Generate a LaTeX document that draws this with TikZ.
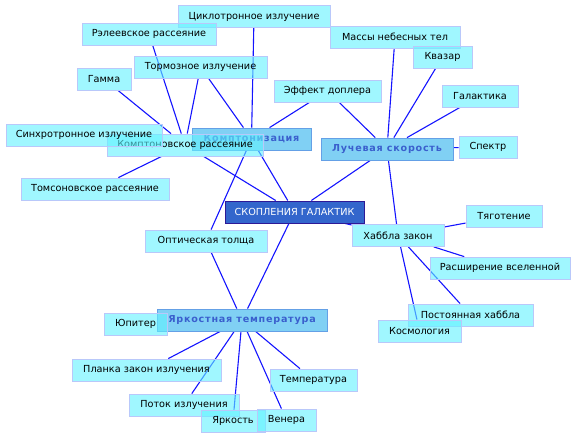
\documentclass[tikz,border=0pt]{standalone}
\usepackage{fontspec}
\setmainfont{DejaVu Sans}
\newfontfamily\catfont[LetterSpace=8]{DejaVu Sans Bold}
\usetikzlibrary{backgrounds}
\definecolor{leaffill}{RGB}{97,242,255}
\definecolor{leafdraw}{RGB}{185,200,250}
\definecolor{catfill}{RGB}{43,177,237}
\definecolor{catdraw}{RGB}{100,160,230}
\definecolor{cattext}{RGB}{58,95,205}
\definecolor{hubfill}{RGB}{51,102,204}
\definecolor{hubdraw}{RGB}{45,25,150}
\definecolor{linkblue}{RGB}{20,20,255}
\tikzset{
  leaf/.style={draw=leafdraw, line width=0.8pt, fill=leaffill, fill opacity=0.6, text opacity=1,
    minimum height=22pt, inner sep=0pt, font=\fontsize{9.7}{11}\selectfont, text=black},
  cat/.style={draw=catdraw, line width=0.8pt, fill=catfill, fill opacity=0.6, text opacity=1,
    minimum height=22pt, inner sep=0pt, font=\catfont\fontsize{9.6}{11}\selectfont, text=cattext},
  central/.style={draw=hubdraw, line width=1pt, fill=hubfill,
    minimum height=22pt, inner sep=0pt, font=\fontsize{9.7}{11}\selectfont, text=white},
  link/.style={draw=linkblue, line width=1.1pt}
}
\begin{document}
\begin{tikzpicture}[x=1pt,y=-1pt]
\useasboundingbox (0,0) rectangle (576,439);
% category / hub nodes
\node[cat, minimum width=119pt] (kompz) at (251.5,139) {Комптонизация};
\node[cat, minimum width=132pt] (luch) at (387,149) {Лучевая скорость};
\node[cat, minimum width=170pt] (yark) at (242,320) {Яркостная температура};
\node[central, minimum width=139pt] (skop) at (294.5,212) {СКОПЛЕНИЯ ГАЛАКТИК};
% leaves
\node[leaf, minimum width=152pt] (cyc) at (254,16.5) {Циклотронное излучение};
\node[leaf, minimum width=134pt] (ray) at (149,34) {Рэлеевское рассеяние};
\node[leaf, minimum width=133pt] (torm) at (200.5,67) {Тормозное излучение};
\node[leaf, minimum width=54pt] (gam) at (104,79) {Гамма};
\node[leaf, minimum width=156pt] (kompr) at (185,145) {Комптоновское рассеяние};
\node[leaf, minimum width=156pt] (sync) at (84,135) {Синхротронное излучение};
\node[leaf, minimum width=107pt] (dop) at (327.5,91) {Эффект доплера};
\node[leaf, minimum width=130pt] (mass) at (395,37) {Массы небесных тел};
\node[leaf, minimum width=59pt] (kvaz) at (442.5,57) {Квазар};
\node[leaf, minimum width=76pt] (gal) at (480,96) {Галактика};
\node[leaf, minimum width=58pt] (spec) at (488,147) {Спектр};
\node[leaf, minimum width=148pt] (toms) at (95,189) {Томсоновское рассеяние};
\node[leaf, minimum width=122pt] (opt) at (206,241) {Оптическая толща};
\node[leaf, minimum width=92pt] (hub) at (398,235.5) {Хаббла закон};
\node[leaf, minimum width=76pt] (tyag) at (504,216) {Тяготение};
\node[leaf, minimum width=140pt] (rassh) at (500,268) {Расширение вселенной};
\node[leaf, minimum width=125pt] (post) at (470.5,315) {Постоянная хаббла};
\node[leaf, minimum width=83pt] (kosm) at (419.5,331) {Космология};
\node[leaf, minimum width=63pt] (yup) at (135.5,324) {Юпитер};
\node[leaf, minimum width=149pt] (plank) at (146.5,370) {Планка закон излучения};
\node[leaf, minimum width=87pt] (temp) at (313.5,380) {Температура};
\node[leaf, minimum width=110pt] (potok) at (184,405) {Поток излучения};
\node[leaf, minimum width=64pt] (yarkost) at (233,421) {Яркость};
\node[leaf, minimum width=59pt] (venera) at (286.5,420) {Венера};
\begin{scope}[on background layer]
\draw[link] (ray) -- (kompr);
\draw[link] (gam) -- (kompr);
\draw[link] (torm) -- (kompr);
\draw[link] (toms) -- (kompr);
\draw[link] (torm) -- (kompz);
\draw[link] (cyc) -- (kompz);
\draw[link] (dop) -- (kompz);
\draw[link] (dop) -- (luch);
\draw[link] (mass) -- (luch);
\draw[link] (kvaz) -- (luch);
\draw[link] (gal) -- (luch);
\draw[link] (spec) -- (luch);
\draw[link] (kompr) -- (skop);
\draw[link] (kompz) -- (skop);
\draw[link] (luch) -- (skop);
\draw[link] (luch) -- (hub);
\draw[link] (skop) -- (hub);
\draw[link] (kompz) -- (opt);
\draw[link] (opt) -- (yark);
\draw[link] (skop) -- (yark);
\draw[link] (hub) -- (tyag);
\draw[link] (hub) -- (rassh);
\draw[link] (hub) -- (post);
\draw[link] (hub) -- (kosm);
\draw[link] (yark) -- (plank);
\draw[link] (yark) -- (potok);
\draw[link] (yark) -- (yarkost);
\draw[link] (yark) -- (venera);
\draw[link] (yark) -- (temp);
\end{scope}
\end{tikzpicture}
\end{document}
